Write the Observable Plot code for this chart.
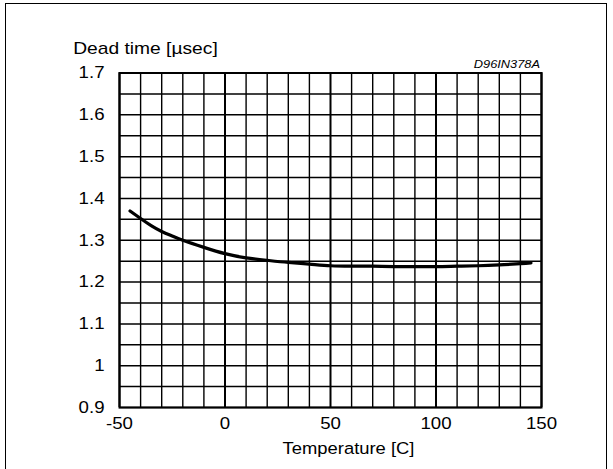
<!DOCTYPE html>
<html>
<head>
<meta charset="utf-8">
<script src="https://cdn.jsdelivr.net/npm/d3@7"></script>
<script src="https://cdn.jsdelivr.net/npm/@observablehq/plot@0.6"></script>
<style>
  html, body { margin: 0; padding: 0; background: #fff; }
  #wrap { position: relative; width: 613px; height: 469px; overflow: hidden; }
  #border { position: absolute; left: 5px; top: 3px; width: 600px; height: 480px;
            border-left: 1.5px solid #000; border-top: 1.5px solid #000; border-right: 1.5px solid #000; }
  #chart { position: absolute; left: 0; top: 0; }
</style>
</head>
<body>
<div id="wrap"><div id="border"></div><div id="chart"></div></div>
<script>
// Data
const temperature = [-45, -40, -35, -30, -25, -20, -10, 0, 10, 20, 30, 40, 50, 60, 70, 80, 90, 100, 110, 120, 130, 140, 145];
const deadTime    = [1.370, 1.352, 1.335, 1.321, 1.310, 1.300, 1.283, 1.268, 1.258, 1.252, 1.247, 1.243, 1.239, 1.238, 1.238, 1.237, 1.237, 1.237, 1.238, 1.239, 1.241, 1.244, 1.246];

const xTicks = [-50, 0, 50, 100, 150];
const xTickLabels = ["-50", "0", "50", "100", "150"];
const yTicks = [0.9, 1.0, 1.1, 1.2, 1.3, 1.4, 1.5, 1.6, 1.7];
const yTickLabels = ["0.9", "1", "1.1", "1.2", "1.3", "1.4", "1.5", "1.6", "1.7"];
const xGrid = [-50, -40, -30, -20, -10, 0, 10, 20, 30, 40, 50, 60, 70, 80, 90, 100, 110, 120, 130, 140, 150];
const xMajor = [-50, 0, 50, 100, 150];
const yGrid = [0.9, 0.95, 1.0, 1.05, 1.1, 1.15, 1.2, 1.25, 1.3, 1.35, 1.4, 1.45, 1.5, 1.55, 1.6, 1.65, 1.7];

const titleText = "Dead time [µsec]";
const xLabelText = "Temperature [C]";
const codeText = "D96IN378A";

const rows = temperature.map((t, i) => ({t, v: deadTime[i]}));
const font = "'Liberation Sans', Arial, Helvetica, sans-serif";

const chart = Plot.plot({
  width: 613,
  height: 469,
  marginLeft: 119,
  marginRight: 72,
  marginTop: 72.5,
  marginBottom: 62,
  style: {fontFamily: font, fontSize: "16.5px", color: "#000", background: "transparent"},
  x: {domain: [-50, 150]},
  y: {domain: [0.9, 1.7]},
  marks: [
    Plot.ruleX(xGrid.filter(d => !xMajor.includes(d)), {stroke: "#000", strokeWidth: 1.4}),
    Plot.ruleX(xMajor, {stroke: "#000", strokeWidth: 2}),
    Plot.ruleY(yGrid, {stroke: "#000", strokeWidth: 1.5}),
    Plot.frame({stroke: "#000", strokeWidth: 2}),
    Plot.line(rows, {x: "t", y: "v", curve: "natural", stroke: "#000", strokeWidth: 3.2}),
    Plot.axisY(yTicks, {tickSize: 0, tickPadding: 15, fontSize: 16.5, label: null,
      tickFormat: d => yTickLabels[yTicks.indexOf(d)]}),
    Plot.axisX(xTicks, {tickSize: 0, tickPadding: 10, fontSize: 16.5, label: null,
      tickFormat: d => xTickLabels[xTicks.indexOf(d)]}),
    Plot.text([titleText], {text: d => d, frameAnchor: "top-left", textAnchor: "start",
      lineAnchor: "bottom", dx: -46.3, dy: -19.5, fontSize: 17, fill: "#000"}),
    Plot.text([xLabelText], {text: d => d, frameAnchor: "bottom", textAnchor: "middle",
      lineAnchor: "bottom", dx: 18, dy: 46.3, fontSize: 16.3, fill: "#000"}),
    Plot.text([codeText], {text: d => d, frameAnchor: "top-right", textAnchor: "end",
      lineAnchor: "bottom", dx: -1.5, dy: -5.2, fontSize: 10.5, fontStyle: "italic", fill: "#000"})
  ]
});

document.getElementById("chart").appendChild(chart);

// The reference glyphs are horizontally stretched; mimic that with textLength
chart.querySelectorAll("text").forEach(el => {
  const w = el.getComputedTextLength();
  if (!w) return;
  const ratio = el.textContent === codeText ? 1.22 : 1.13;
  el.setAttribute("textLength", (w * ratio).toFixed(2));
  el.setAttribute("lengthAdjust", "spacingAndGlyphs");
});
</script>
</body>
</html>
